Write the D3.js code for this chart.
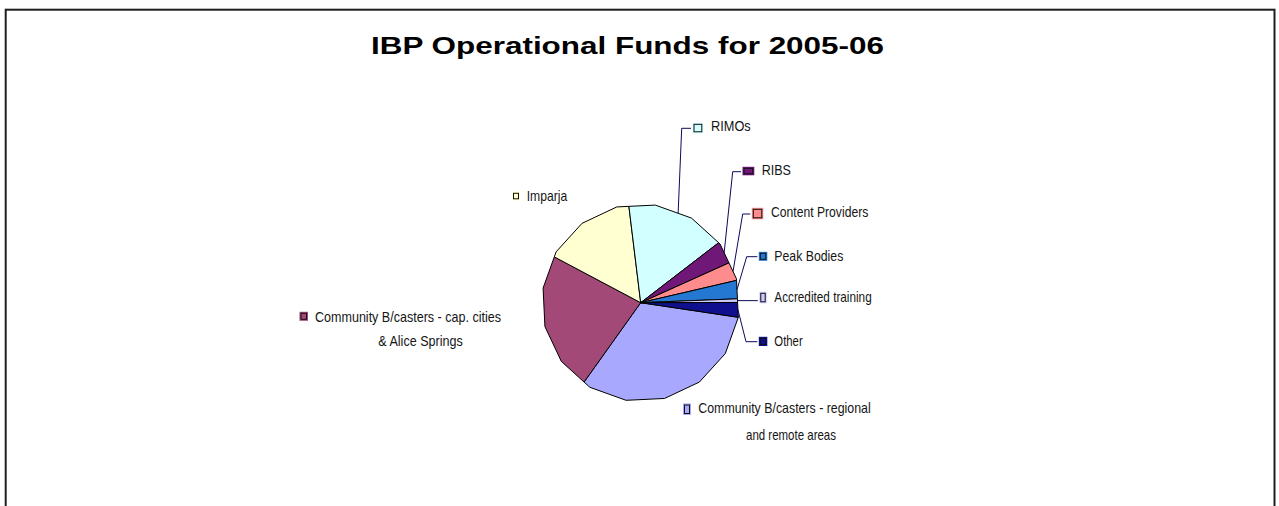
<!DOCTYPE html>
<html>
<head>
<meta charset="utf-8">
<script src="https://cdn.jsdelivr.net/npm/d3@7"></script>
<style>
  body { margin: 0; background: #fff; }
  svg { display: block; }
  text { font-family: "Liberation Sans", Arial, sans-serif; fill: #151515; }
</style>
</head>
<body>
<div id="chart"></div>
<script>
// slices in the order the chart draws them (clockwise from the first slice)
var categories = ["Community B/casters - regional and remote areas",
	"Community B/casters - cap. cities & Alice Springs",
	"Imparja", "RIMOs", "RIBS", "Content Providers", "Peak Bodies",
	"Accredited training", "Other"]
var labelLines = [["Community  B/casters - regional", "and remote areas"],
	["Community  B/casters - cap. cities", "& Alice Springs"],
	["Imparja"], ["RIMOs"], ["RIBS"], ["Content Providers"], ["Peak Bodies"],
	["Accredited training"], ["Other"]]
// share of funds, %
var shares = [32.5, 22.9, 15.3, 16.5, 3.7, 3.1, 3.0, 0.6, 2.4]
var colours = ["#A8A8FF", "#A34977", "#FFFFD2", "#D2FFFF", "#701878",
	"#FF8C8C", "#2478D2", "#CCCCFF", "#10108E"]

// label placement (box = legend key, lines = [x, baseline, width], corner = leader bend)
var labelLayout = [
	{box: [683, 403.5, 8, 11.5], lines: [[698.3, 412.7, 172.4], [746, 440, 90]]},
	{box: [299.5, 311.8, 8.5, 9], lines: [[315, 321.7, 186], [378.3, 345.5, 84.4]]},
	{box: [512, 191.8, 8, 8.5], lines: [[526.7, 200.7, 40.5]]},
	{box: [692.5, 122.8, 10.8, 10.5], lines: [[711, 130.7, 39.7]], corner: [681.7, 128.3]},
	{box: [742.5, 166.8, 11.8, 8.5], lines: [[761.7, 175.3, 29.3]], corner: [732.7, 171.7]},
	{box: [751.8, 207.8, 11.5, 11.5], lines: [[771, 216.7, 97.3]], corner: [742.7, 214]},
	{box: [758.8, 251.8, 8.5, 9], lines: [[774.3, 260.7, 69]], corner: [746.7, 256.7]},
	{box: [759.3, 291.8, 7.4, 11.5], lines: [[774.3, 302.3, 97.4]], corner: null},
	{box: [758.8, 336.8, 8.5, 9.2], lines: [[774.3, 346, 28.4]], corner: [746, 341.7]}
]

var w = 1279, h = 506
var cx = 640.7, cy = 302.7, R = 98.7
var startDeg = 98.5
var start = startDeg * Math.PI / 180
var step = 2 * Math.PI / 16   // the pie is drawn as a 16-sided polygon

var svg = d3.select("#chart").append("svg")
	.attr("width", w)
	.attr("height", h)

// chart frame
svg.append("rect")
	.attr("x", 5.7).attr("y", 9.7)
	.attr("width", 1268.8).attr("height", 600)
	.attr("fill", "none")
	.attr("stroke", "#1e1e1e")
	.attr("stroke-width", 2)

// title
svg.append("text")
	.attr("x", 371).attr("y", 54)
	.attr("textLength", 513)
	.attr("lengthAdjust", "spacingAndGlyphs")
	.style("font-size", "24px")
	.style("font-weight", "bold")
	.style("fill", "#000")
	.text("IBP Operational Funds for 2005-06")

var pie = d3.pie()
	.sort(null)
	.startAngle(start)
	.endAngle(start + 2 * Math.PI)

var arcs = pie(shares)

// radius of the polygon outline along angle a
function polyR(a) {
	var t = ((a - start) % step + step) % step
	return R * Math.cos(step / 2) / Math.cos(t - step / 2)
}

function slicePath(d) {
	var p = d3.path()
	p.moveTo(0, 0)
	var s = d3.pointRadial(d.startAngle, polyR(d.startAngle))
	p.lineTo(s[0], s[1])
	for (var k = 0; k <= 16; k++) {
		var v = start + k * step
		if (v > d.startAngle + 1e-6 && v < d.endAngle - 1e-6) {
			var q = d3.pointRadial(v, R)
			p.lineTo(q[0], q[1])
		}
	}
	var e = d3.pointRadial(d.endAngle, polyR(d.endAngle))
	p.lineTo(e[0], e[1])
	p.closePath()
	return p.toString()
}

var pieG = svg.append("g").attr("transform", "translate(" + cx + "," + cy + ")")

pieG.selectAll("path")
	.data(arcs)
	.enter()
	.append("path")
	.attr("d", slicePath)
	.attr("fill", function(d, i) { return colours[i] })
	.attr("stroke", "#000")
	.attr("stroke-width", 1)
	.attr("stroke-linejoin", "round")

// leader lines from the slice edge to the label
var leaderG = svg.append("g")
arcs.forEach(function(d, i) {
	var L = labelLayout[i]
	if (L.corner === undefined) return
	var mid = (d.startAngle + d.endAngle) / 2
	var p0 = d3.pointRadial(mid, polyR(mid))
	var x0 = cx + p0[0], y0 = cy + p0[1]
	var endX = L.box[0] - 1.5
	var pts
	if (L.corner) {
		pts = [[x0, y0], L.corner, [endX, L.corner[1]]]
	} else {
		pts = [[x0, y0], [endX, y0]]
	}
	leaderG.append("path")
		.attr("d", d3.line()(pts))
		.attr("fill", "none")
		.attr("stroke", "#0a0a5a")
		.attr("stroke-width", 1)
})

// labels with legend keys
var labG = svg.selectAll(".lab")
	.data(categories)
	.enter()
	.append("g")
	.attr("class", "lab")

labG.append("rect")
	.attr("x", function(d, i) { return labelLayout[i].box[0] })
	.attr("y", function(d, i) { return labelLayout[i].box[1] })
	.attr("width", function(d, i) { return labelLayout[i].box[2] })
	.attr("height", function(d, i) { return labelLayout[i].box[3] })
	.attr("fill", function(d, i) { return colours[i] })

labG.append("rect")
	.attr("x", function(d, i) { return labelLayout[i].box[0] + 1.5 })
	.attr("y", function(d, i) { return labelLayout[i].box[1] + 1.5 })
	.attr("width", function(d, i) { return Math.max(1, labelLayout[i].box[2] - 3) })
	.attr("height", function(d, i) { return Math.max(1, labelLayout[i].box[3] - 3) })
	.attr("fill", function(d, i) { return colours[i] })
	.attr("stroke", "#111")
	.attr("stroke-width", 1)

labG.each(function(d, i) {
	var g = d3.select(this)
	labelLines[i].forEach(function(line, j) {
		var pos = labelLayout[i].lines[j]
		g.append("text")
			.attr("x", pos[0])
			.attr("y", pos[1])
			.attr("textLength", pos[2])
			.attr("lengthAdjust", "spacingAndGlyphs")
			.style("font-size", "15px")
			.text(line)
	})
})
</script>
</body>
</html>
